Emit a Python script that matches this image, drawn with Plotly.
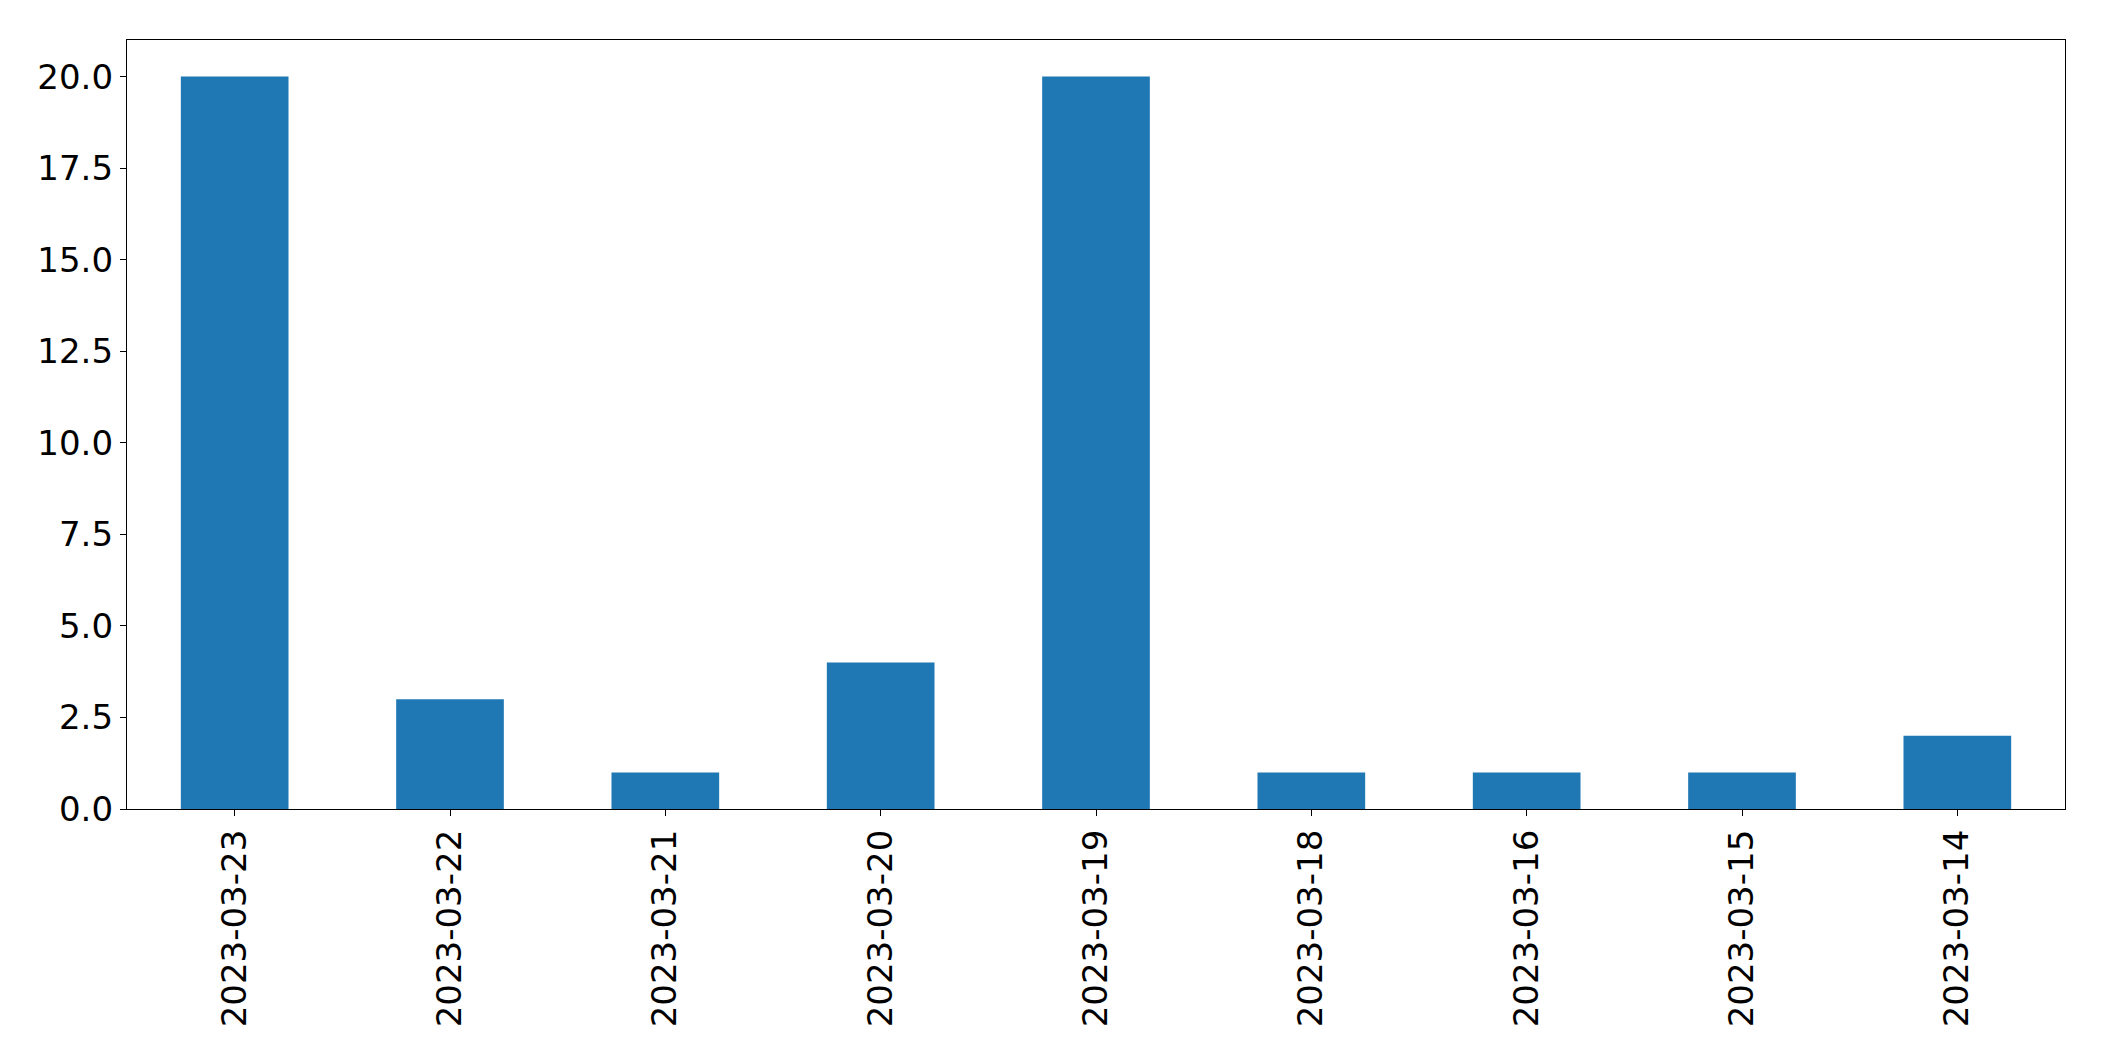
import plotly.graph_objects as go

dates = ["2023-03-23", "2023-03-22", "2023-03-21", "2023-03-20", "2023-03-19",
         "2023-03-18", "2023-03-16", "2023-03-15", "2023-03-14"]
counts = [20, 3, 1, 4, 20, 1, 1, 1, 2]

fig = go.Figure(go.Bar(x=dates, y=counts, marker_color="#1f77b4", marker_line_width=0, width=0.5))

fig.update_layout(
    width=2088, height=1045,
    margin=dict(l=119, r=31, t=32, b=244),
    paper_bgcolor="white", plot_bgcolor="white",
    font=dict(family="DejaVu Sans", size=34, color="black"),
    showlegend=False,
)
fig.update_xaxes(
    type="category", range=[-0.5, 8.5], tickangle=-90,
    showline=True, linecolor="black", linewidth=1.3, mirror=True,
    ticks="outside", ticklen=6, tickwidth=1.3, tickcolor="black",
    showgrid=False, zeroline=False,
)
fig.update_yaxes(
    range=[0, 21], tickmode="linear", tick0=0, dtick=2.5, tickformat=".1f",
    showline=True, linecolor="black", linewidth=1.3, mirror=True,
    ticks="outside", ticklen=6, tickwidth=1.3, tickcolor="black",
    showgrid=False, zeroline=False,
)
fig.write_html("out.html")
